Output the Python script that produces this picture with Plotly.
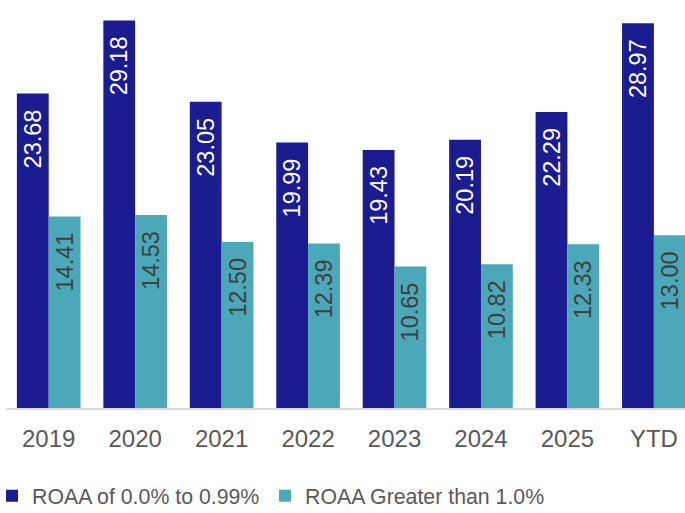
import plotly.graph_objects as go

categories = ["2019", "2020", "2021", "2022", "2023", "2024", "2025", "YTD"]
roaa_low = [23.68, 29.18, 23.05, 19.99, 19.43, 20.19, 22.29, 28.97]
roaa_high = [14.41, 14.53, 12.50, 12.39, 10.65, 10.82, 12.33, 13.00]
series_names = ["ROAA of 0.0% to 0.99%", "ROAA Greater than 1.0%"]

FONT = "Liberation Sans, Arial, sans-serif"
pad = "\u00a0\u00a0"

fig = go.Figure()
fig.add_trace(go.Bar(
    x=categories, y=roaa_low, name=series_names[0], legend="legend",
    marker=dict(color="#1B1C8F", line=dict(width=0)),
    texttemplate="%{y:.2f}" + pad, textposition="inside", insidetextanchor="end",
    textangle=-90, constraintext="none",
    insidetextfont=dict(family=FONT, size=23.5, color="#FFFFFF"),
))
fig.add_trace(go.Bar(
    x=categories, y=roaa_high, name=series_names[1], legend="legend2",
    marker=dict(color="#4BA8B8", line=dict(width=0)),
    texttemplate="%{y:.2f}" + pad, textposition="inside", insidetextanchor="end",
    textangle=-90, constraintext="none",
    insidetextfont=dict(family=FONT, size=23.5, color="#404040"),
))

legend_common = dict(
    orientation="h", xref="container", yref="container",
    y=0.0331, xanchor="left", yanchor="middle",
    font=dict(size=21.3, color="#595959"), itemwidth=30,
    bgcolor="rgba(0,0,0,0)",
)

fig.update_layout(
    width=685, height=513,
    margin=dict(l=6, r=0, t=0, b=105),
    paper_bgcolor="white", plot_bgcolor="white",
    barmode="group", bargap=0.264, bargroupgap=0,
    font=dict(family=FONT, color="#595959"),
    xaxis=dict(
        range=[-0.494, 7.36], showgrid=False, showline=True, linecolor="#D9D9D9",
        linewidth=1.5, ticks="", tickfont=dict(size=24, color="#595959"),
        ticklabelstandoff=8,
    ),
    yaxis=dict(range=[0, 30.72], visible=False, showgrid=False, zeroline=False),
    showlegend=True,
    legend=dict(x=0, indentation=-8, **legend_common),
    legend2=dict(x=265 / 685, **legend_common),
)

fig.write_html(
    "out.html",
    config={"displayModeBar": False},
    post_script="document.body.style.margin='0';document.body.style.overflow='hidden';",
)
